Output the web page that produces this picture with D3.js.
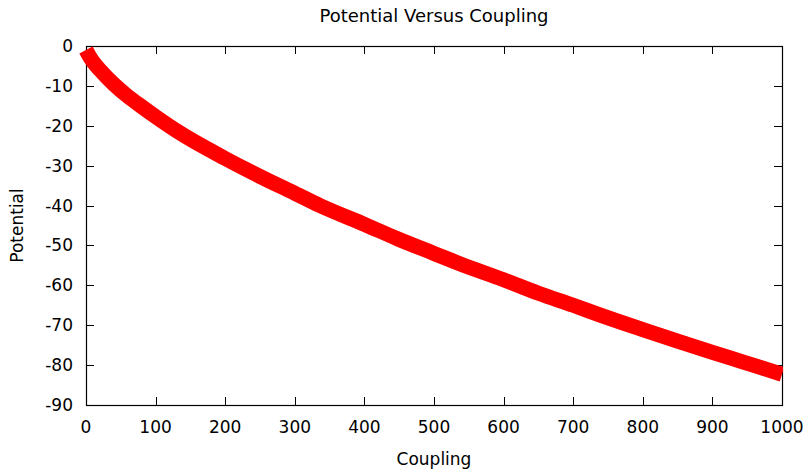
<!DOCTYPE html>
<html>
<head>
<meta charset="utf-8">
<script src="https://cdn.jsdelivr.net/npm/d3@7"></script>
<style>
  body { margin: 0; background: #fff; }
  text { font-family: "DejaVu Sans", sans-serif; fill: #000; }
</style>
</head>
<body>
<svg width="810" height="469"></svg>
<script>
// values
var coupling = [0, 5, 10, 20, 40, 60, 80, 100, 135, 200, 250, 300, 336, 400, 450, 500,
                537, 600, 650, 700, 738, 800, 850, 900, 940, 1000];
var potential = [-1.0, -2.6, -3.9, -6.0, -9.6, -12.6, -15.2, -17.7, -21.8, -28.2, -32.7, -36.9,
                 -40.0, -44.7, -48.5, -52.0, -54.6, -58.6, -62.0, -65.0, -67.4, -71.1, -74.0,
                 -76.8, -79.0, -82.3];
var xTicks = [0, 100, 200, 300, 400, 500, 600, 700, 800, 900, 1000];
var yTicks = [0, -10, -20, -30, -40, -50, -60, -70, -80, -90];

var svg = d3.select("svg"),
    mLeft = 86, mRight = 782, mTop = 46, mBottom = 405,
    fs = 17;

var x = d3.scaleLinear().domain([0, 1000]).range([mLeft, mRight]);
var y = d3.scaleLinear().domain([-90, 0]).range([mBottom, mTop]);

var data = coupling.map(function(c, i) { return {c: c, p: potential[i]}; });

// title and axis labels
svg.append("text")
    .attr("x", (mLeft + mRight) / 2).attr("y", 22)
    .attr("text-anchor", "middle").attr("font-size", 18)
    .text("Potential Versus Coupling");

svg.append("text")
    .attr("x", (mLeft + mRight) / 2).attr("y", 465)
    .attr("text-anchor", "middle").attr("font-size", fs)
    .text("Coupling");

svg.append("text")
    .attr("transform", "translate(23," + ((mTop + mBottom) / 2) + ") rotate(-90)")
    .attr("text-anchor", "middle").attr("font-size", fs)
    .text("Potential");

// ticks, inward on all four sides like gnuplot
var tl = 8;
var ticks = svg.append("g").attr("stroke", "#000").attr("stroke-width", 1);

ticks.selectAll(".xb").data(xTicks).enter().append("line")
    .attr("x1", function(d) { return Math.round(x(d)) + 0.5; })
    .attr("x2", function(d) { return Math.round(x(d)) + 0.5; })
    .attr("y1", mBottom).attr("y2", mBottom - tl);
ticks.selectAll(".xt").data(xTicks).enter().append("line")
    .attr("x1", function(d) { return Math.round(x(d)) + 0.5; })
    .attr("x2", function(d) { return Math.round(x(d)) + 0.5; })
    .attr("y1", mTop).attr("y2", mTop + tl);
ticks.selectAll(".yl").data(yTicks).enter().append("line")
    .attr("y1", function(d) { return Math.round(y(d)) + 0.5; })
    .attr("y2", function(d) { return Math.round(y(d)) + 0.5; })
    .attr("x1", mLeft).attr("x2", mLeft + tl);
ticks.selectAll(".yr").data(yTicks).enter().append("line")
    .attr("y1", function(d) { return Math.round(y(d)) + 0.5; })
    .attr("y2", function(d) { return Math.round(y(d)) + 0.5; })
    .attr("x1", mRight).attr("x2", mRight - tl);

svg.append("g").selectAll("text").data(xTicks).enter().append("text")
    .attr("x", function(d) { return x(d); })
    .attr("y", 433)
    .attr("text-anchor", "middle").attr("font-size", fs)
    .text(function(d) { return d; });

svg.append("g").selectAll("text").data(yTicks).enter().append("text")
    .attr("x", 73)
    .attr("y", function(d) { return y(d) + 6; })
    .attr("text-anchor", "end").attr("font-size", fs)
    .text(function(d) { return d; });

// border
svg.append("rect")
    .attr("x", mLeft + 0.5).attr("y", mTop + 0.5)
    .attr("width", mRight - mLeft).attr("height", mBottom - mTop)
    .attr("fill", "none").attr("stroke", "#000").attr("stroke-width", 1.2);

// the curve, thick red line, cut off at the right border
svg.append("clipPath").attr("id", "clip")
  .append("rect").attr("x", 0).attr("y", 0).attr("width", mRight + 1).attr("height", 469);

var line = d3.line()
    .x(function(d) { return x(d.c); })
    .y(function(d) { return y(d.p); })
    .curve(d3.curveMonotoneX);

svg.append("path")
    .datum(data)
    .attr("clip-path", "url(#clip)")
    .attr("d", line)
    .attr("fill", "none")
    .attr("stroke", "#ff0000")
    .attr("stroke-width", 15)
    .attr("stroke-linecap", "butt")
    .attr("stroke-linejoin", "round");
</script>
</body>
</html>
